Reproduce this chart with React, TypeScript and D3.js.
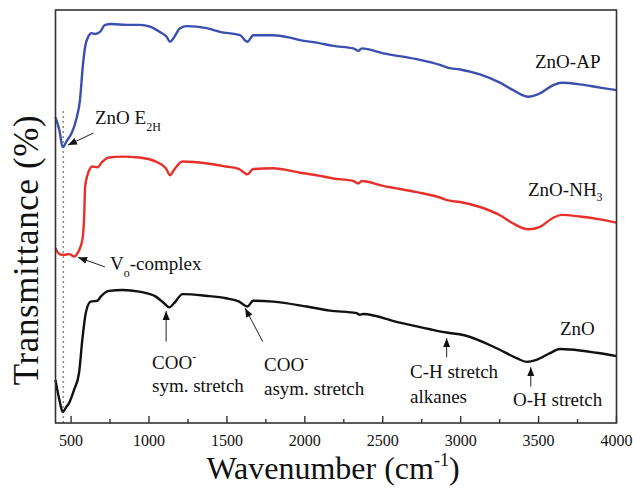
import React from "react";
import * as d3 from "d3";

type Pt = [number, number];

const zno: Pt[] = [
  [400, 10.4], [425, 5.6], [446, 2.7], [470, 3.9], [487, 4.8], [519, 8.0], [551, 12.1], [572, 20.1],
  [594, 26.6], [626, 29.4], [669, 29.6], [690, 30.6], [744, 32.0], [830, 32.2], [937, 31.8], [1044, 30.6],
  [1097, 29.0], [1129, 28.0], [1161, 29.0], [1215, 31.2], [1365, 30.8], [1494, 30.2], [1579, 29.4],
  [1631, 28.2], [1669, 29.6], [1797, 29.4], [2012, 28.2], [2161, 27.2], [2332, 26.6], [2353, 26.2],
  [2375, 26.4], [2589, 24.5], [2803, 22.7], [2910, 21.9], [3017, 21.3], [3231, 18.1], [3359, 15.7],
  [3423, 14.8], [3487, 15.3], [3573, 16.9], [3637, 17.9], [3701, 17.8], [3872, 17.0], [4000, 16.2],
];

const znoNH3: Pt[] = [
  [400, 42.3], [425, 40.9], [455, 40.7], [487, 40.9], [519, 40.3], [547, 41.5], [573, 44.5], [584, 50.0],
  [590, 57.2], [605, 60.0], [637, 62.1], [669, 61.9], [701, 63.3], [744, 64.3], [830, 64.5], [937, 64.3],
  [1044, 63.3], [1108, 61.7], [1135, 60.0], [1161, 61.3], [1215, 63.3], [1365, 62.9], [1494, 62.1],
  [1579, 61.5], [1631, 60.2], [1669, 61.5], [1797, 61.7], [1905, 61.1], [1969, 60.6], [2076, 60.0],
  [2183, 59.2], [2311, 58.6], [2343, 58.0], [2365, 58.6], [2503, 57.4], [2718, 55.9], [2867, 54.6],
  [2920, 53.9], [2996, 53.5], [3124, 52.3], [3252, 50.3], [3337, 48.3], [3434, 46.9], [3509, 47.5],
  [3594, 49.7], [3648, 50.4], [3766, 50.0], [3894, 49.3], [4000, 48.5],
];

const znoAP: Pt[] = [
  [400, 74.0], [425, 70.9], [446, 66.8], [475, 68.5], [504, 70.2], [535, 73.8], [557, 78.2], [575, 86.3],
  [590, 91.1], [610, 93.5], [632, 94.4], [653, 94.2], [686, 94.7], [718, 96.4], [761, 96.6], [857, 96.4],
  [942, 96.4], [1006, 96.0], [1070, 94.7], [1113, 93.5], [1135, 92.3], [1156, 93.1], [1199, 95.6],
  [1242, 96.1], [1370, 95.6], [1455, 94.7], [1584, 93.9], [1631, 92.3], [1669, 93.9], [1797, 93.9],
  [1905, 93.3], [1969, 92.7], [2076, 92.1], [2183, 91.3], [2311, 90.7], [2343, 90.1], [2365, 90.7],
  [2503, 89.5], [2718, 88.1], [2867, 86.7], [2920, 86.0], [2996, 85.6], [3124, 84.4], [3252, 82.4],
  [3337, 80.6], [3434, 79.0], [3509, 79.8], [3594, 81.8], [3648, 82.4], [3766, 82.0], [3894, 81.2],
  [4000, 80.6],
];

const majorTicks = [500, 1000, 1500, 2000, 2500, 3000, 3500, 4000];
const minorTicks = [750, 1250, 1750, 2250, 2750, 3250, 3750];

const series = [
  { name: "ZnO", data: zno, color: "#111111" },
  { name: "ZnO-NH3", data: znoNH3, color: "#e8302a" },
  { name: "ZnO-AP", data: znoAP, color: "#3a4fae" },
];

// arrow tails/tips in data units: [tailW, tailV, tipW, tipV]
const arrows: [number, number, number, number][] = [
  [643, 70.2, 480, 67.3],
  [717, 37.8, 545, 40.1],
  [1110, 19.7, 1110, 27.1],
  [1730, 19.7, 1617, 27.8],
  [2910, 15.9, 2910, 20.5],
  [3450, 8.8, 3450, 13.5],
];

const FONT = "'Liberation Serif', 'Times New Roman', Times, serif";

export default function App() {
  const W = 633, H = 490;
  const left = 55.5, right = 616.5, top = 10, bottom = 423;
  const x = d3.scaleLinear().domain([400, 4000]).range([left, right]);
  const y = d3.scaleLinear().domain([0, 100]).range([bottom, top]);
  const line = d3
    .line<Pt>()
    .x((d) => x(d[0]))
    .y((d) => y(d[1]))
    .curve(d3.curveMonotoneX);

  return (
    <svg width={W} height={H} style={{ position: "absolute", left: 0, top: 0, background: "#fff" }} fontFamily={FONT}>
      <defs>
        <marker id="ah" viewBox="0 0 10 10" refX="10" refY="5" markerWidth="9" markerHeight="9" markerUnits="userSpaceOnUse" orient="auto">
          <path d="M0,1 L10,5 L0,9 z" fill="#111" />
        </marker>
      </defs>
      <line x1={x(450)} x2={x(450)} y1={y(75.5)} y2={bottom} stroke="#666" strokeWidth={1.6} strokeDasharray="1.5,3.5" />
      {series.map((s) => (
        <path key={s.name} d={line(s.data) || ""} fill="none" stroke={s.color} strokeWidth={2.4} strokeLinejoin="round" />
      ))}
      {arrows.map((a, i) => (
        <line key={i} x1={x(a[0])} y1={y(a[1])} x2={x(a[2])} y2={y(a[3])} stroke="#222" strokeWidth={1} markerEnd="url(#ah)" />
      ))}
      <rect x={left} y={top} width={right - left} height={bottom - top} fill="none" stroke="#333" strokeWidth={1.6} />
      {majorTicks.map((t) => (
        <g key={t}>
          <line x1={x(t)} x2={x(t)} y1={bottom} y2={bottom - 7} stroke="#333" strokeWidth={1.4} />
          <text x={x(t)} y={446} textAnchor="middle" fontSize={16} fill="#111">{t}</text>
        </g>
      ))}
      {minorTicks.map((t) => (
        <line key={t} x1={x(t)} x2={x(t)} y1={bottom} y2={bottom - 4} stroke="#333" strokeWidth={1.4} />
      ))}
      <text x={333} y={479} textAnchor="middle" fontSize={32} fill="#111">
        Wavenumber (cm<tspan fontSize={18} dy={-13}>-1</tspan><tspan dy={13}>)</tspan>
      </text>
      <text transform="translate(38,250) rotate(-90)" textAnchor="middle" fontSize={35} letterSpacing={0.6} fill="#111">Transmittance (%)</text>

      <text x={535} y={68} fontSize={19} fill="#111">ZnO-AP</text>
      <text x={528} y={196} fontSize={19} fill="#111">ZnO-NH<tspan fontSize={12} dy={5}>3</tspan></text>
      <text x={560} y={335} fontSize={19} fill="#111">ZnO</text>

      <text x={95} y={124} fontSize={19} fill="#111">ZnO E<tspan fontSize={12} dy={7}>2H</tspan></text>
      <text x={110} y={270} fontSize={19} fill="#111">V<tspan fontSize={12} dy={7}>o</tspan><tspan dy={-7}>-complex</tspan></text>

      <text x={152} y={369} fontSize={19} fill="#111">COO<tspan fontSize={12} dy={-8}>-</tspan></text>
      <text x={152} y={392} fontSize={19} fill="#111">sym. stretch</text>
      <text x={264} y={371} fontSize={19} fill="#111">COO<tspan fontSize={12} dy={-8}>-</tspan></text>
      <text x={264} y={395} fontSize={19} fill="#111">asym. stretch</text>
      <text x={410} y={378} fontSize={19} fill="#111">C-H stretch</text>
      <text x={410} y={403} fontSize={19} fill="#111">alkanes</text>
      <text x={513} y={406} fontSize={19} fill="#111">O-H stretch</text>
    </svg>
  );
}
